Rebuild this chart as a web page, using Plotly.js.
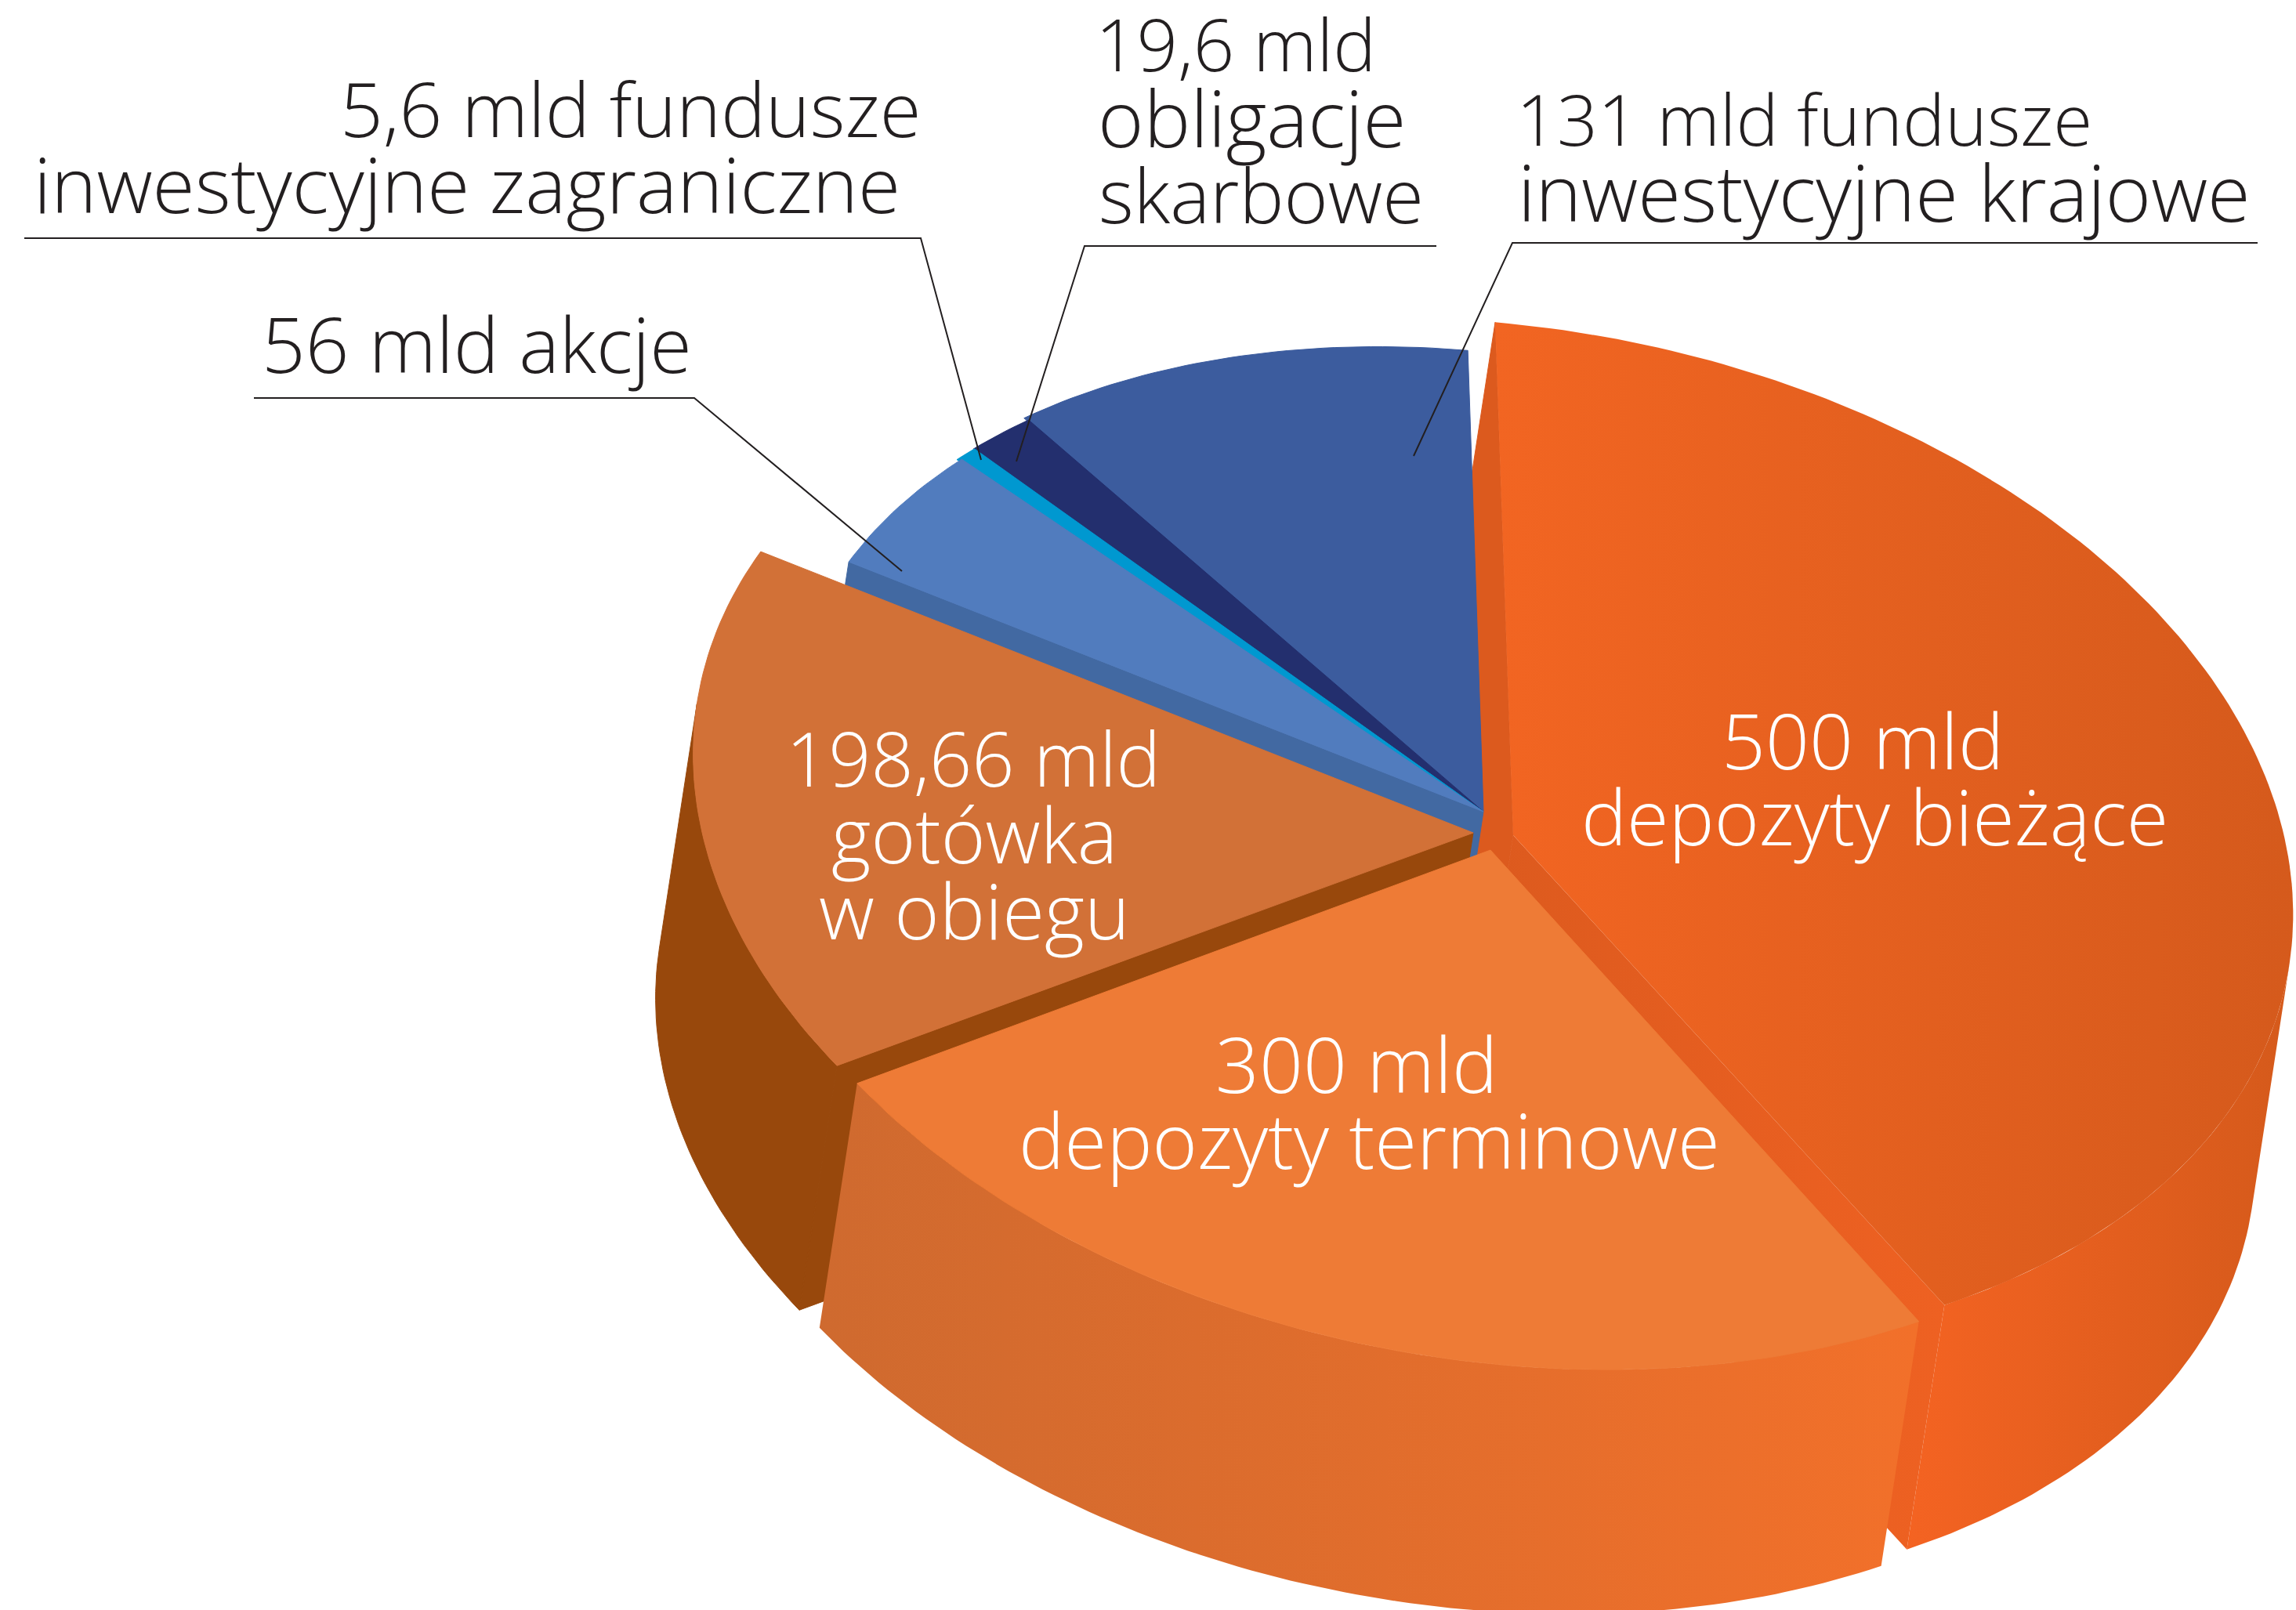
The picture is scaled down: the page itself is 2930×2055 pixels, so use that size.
<!DOCTYPE html>
<html><head><meta charset="utf-8">
<script src="https://cdn.plot.ly/plotly-3.0.1.min.js"></script>
<style>html,body{margin:0;padding:0;background:#fff}#c{width:2930px;height:2055px}</style>
</head><body><div id="c"></div>
<script>
// ---- data ----
const categories = ["depozyty bieżące","depozyty terminowe","gotówka w obiegu","akcje","fundusze inwestycyjne zagraniczne","obligacje skarbowe","fundusze inwestycyjne krajowe"];
const values = [500, 300, 198.66, 56, 5.6, 19.6, 131];
const labelLines = ["500 mld","depozyty bieżące","300 mld","depozyty terminowe","198,66 mld","gotówka","w obiegu","56 mld akcje","5,6 mld fundusze","inwestycyjne zagraniczne","19,6 mld","obligacje","skarbowe","131 mld fundusze","inwestycyjne krajowe"];
const labelColors = ["#fff","#fff","#fff","#fff","#fff","#fff","#fff","#231f20","#231f20","#231f20","#231f20","#231f20","#231f20","#231f20","#231f20"];
const labelX = [2377,2392,1731,1747,1242,1243,1243,608,804,596,1577,1597,1609,2302,2404];
const labelBase = [983,1080,1396,1493,1005,1103,1200,477,176,273,92,189,286,187,284];
const labelSize = [98,97.5,98,98,95,97,98,97.5,96,98.5,92,100,96,91,99.5];

// ---- styling of the extruded, tilted pie ----
const apexX = [1931,1902,1880,1893,1893,1893,1893];
const apexY = [1066,1085,1063,1036,1036,1036,1036];
const radiusX = [0.975,0.97,0.975,0.87,0.875,0.875,0.875];
const radiusY = [0.995,1.0,1.0,0.875,0.875,0.875,0.875];
const arcOffX = [0,0,0,2,5,9,9];
const arcOffY = [0,0,0,-2,-4,-7,-12];
const edgeNudge = [0.9,0,-1.0,-0.7,0,0,0,0.5];
const startOverlap = [0,0,0,0,0.5,0.5,0.5];
const topFill = [["#f26522","#d55a1c"],["#ee7b36","#ee7b36"],["#d27137","#d27137"],["#517cbe","#517cbe"],["#0098d0","#0098d0"],["#232f6e","#232f6e"],["#3c5c9e","#3c5c9e"]];
const wallFill = [["#f46322","#d55a1b"],["#cf6a2f","#f2702a"],["#98480c","#98480c"]];
const cutFill = [["#dc5a1e","#ee6122"],null,["#98480c","#98480c"],["#4269a2","#4269a2"]];
const A = 1030, B = 650, TILT = 10*Math.PI/180, START = -8.7;
const DX = -48, DY = 312;
const FONT = "Open Sans", FW = 300;

const total = values.reduce((a,b)=>a+b,0);
const edges = [START];
values.forEach(v=>edges.push(edges[edges.length-1]+v/total*360));
edges.forEach((e,i)=>{edges[i]=e+edgeNudge[i];});

function pt(i,deg){
  const t=deg*Math.PI/180, u=A*radiusX[i]*Math.sin(t), v=-B*radiusY[i]*Math.cos(t);
  return [apexX[i]+arcOffX[i]+u*Math.cos(TILT)-v*Math.sin(TILT), apexY[i]+arcOffY[i]+u*Math.sin(TILT)+v*Math.cos(TILT)];
}
function arc(i,a,b){const o=[];const n=Math.max(2,Math.ceil(Math.abs(b-a)));for(let k=0;k<=n;k++)o.push(pt(i,a+(b-a)*k/n));return o;}
// angle of the arc where it runs parallel to the extrusion direction (silhouette of the wall)
function silhouette(i,a,b,sign){
  let best=a,val=-Infinity;
  for(let d=a;d<=b;d+=0.25){const p=pt(i,d),s=sign*(p[0]*DY-p[1]*DX);if(s>val){val=s;best=d;}}
  return best;
}
function poly(name,pts,cols){
  const p=pts.concat([pts[0]]);
  const solid=cols[0]===cols[1];
  const t={type:"scatter",mode:"lines",name:name,x:p.map(q=>q[0]),y:p.map(q=>q[1]),fill:"toself",line:{width:solid?1:0,color:cols[0]},hoverinfo:"skip",showlegend:false};
  if(solid) t.fillcolor=cols[0];
  else t.fillgradient={type:"horizontal",colorscale:[[0,cols[0]],[1,cols[1]]]};
  return t;
}
const sh=q=>[q[0]+DX,q[1]+DY];
function topFace(i){return poly(categories[i],[[apexX[i],apexY[i]]].concat(arc(i,edges[i]-startOverlap[i],edges[i+1])),topFill[i]);}
function wall(i,a,b,cols){const s=arc(i,a,b);return poly(categories[i]+" bok",s.concat(s.slice().reverse().map(sh)),cols);}
function cut(i,deg,cols){const c=[apexX[i],apexY[i]],p=pt(i,deg);return poly(categories[i]+" przekrój",[c,p,sh(p),sh(c)],cols);}

const traces=[
  cut(0,edges[0],[cutFill[0][0],cutFill[0][0]]),
  wall(0,silhouette(0,edges[0],edges[1],1),edges[1],wallFill[0]),
  cut(0,edges[1],cutFill[0]),
  cut(3,edges[3],cutFill[3]),
  topFace(6),topFace(5),topFace(4),topFace(3),
  wall(2,edges[2],silhouette(2,edges[2],edges[3],-1),wallFill[2]),
  cut(2,edges[2],cutFill[2]),
  topFace(2),
  wall(1,edges[1],edges[2],wallFill[1]),
  topFace(1),
  topFace(0)
];

const leaders=[
 [[324,508],[886,508],[1151,729]],
 [[31,304],[1175,304],[1252,587]],
 [[1833,314],[1384,314],[1297,589]],
 [[2881,310],[1930,310],[1804,582]]
];
const shapes=leaders.map(l=>({type:"path",xref:"x",yref:"y",path:"M"+l.map(q=>q.join(",")).join("L"),line:{color:"#231f20",width:2}}));

const annotations=labelLines.map((t,i)=>({text:t,x:labelX[i],y:labelBase[i]-labelSize[i]*0.40,xref:"x",yref:"y",xanchor:"center",yanchor:"middle",showarrow:false,
  font:{family:FONT,size:labelSize[i],color:labelColors[i],weight:FW}}));

Plotly.newPlot("c",traces,{
  width:2930,height:2055,margin:{l:0,r:0,t:0,b:0},paper_bgcolor:"#fff",plot_bgcolor:"#fff",showlegend:false,
  xaxis:{range:[0,2930],visible:false,fixedrange:true},
  yaxis:{range:[2055,0],visible:false,fixedrange:true},
  shapes:shapes,annotations:annotations
},{displayModeBar:false,staticPlot:true});
</script></body></html>
